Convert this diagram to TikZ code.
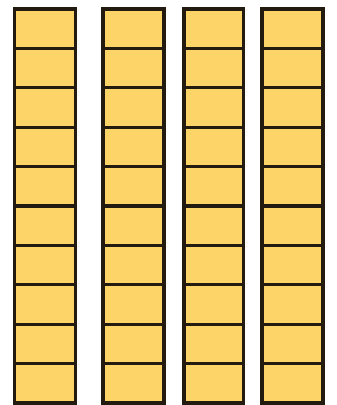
\documentclass[tikz,border=0pt]{standalone}
\definecolor{cellfill}{HTML}{FCD468}
\definecolor{cellline}{HTML}{231A10}
\begin{document}
\begin{tikzpicture}[x=1pt,y=-1pt,
  cell/.style={fill=cellfill,draw=cellline,line width=3.2pt,line join=miter}]
\useasboundingbox (0,0) rectangle (337,405);
\foreach \xl/\xr in {14.5/75.5, 103/164, 184/243.5, 262/323}{
  \foreach \k in {0,...,9}{
    \draw[cell] (\xl,{9+39.4*\k}) rectangle (\xr,{9+39.4*(\k+1)});
  }
}
\end{tikzpicture}
\end{document}
